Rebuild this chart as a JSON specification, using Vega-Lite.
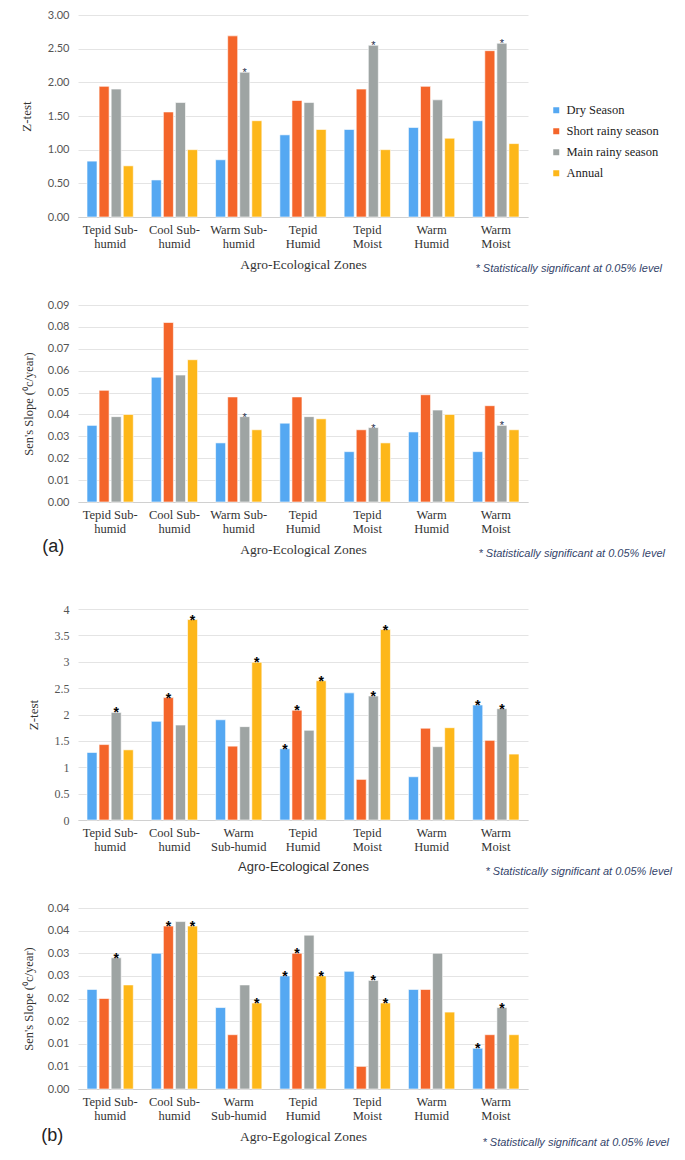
{
"$schema": "https://vega.github.io/schema/vega-lite/v6.json",
"background": "white",
"padding": {"left": 20, "top": 9, "right": 5, "bottom": 5},
"datasets": {"d": [
{"p":"p1","z":"Tepid Sub-humid","s":"Dry Season","v":0.83,"sig":0},
{"p":"p1","z":"Tepid Sub-humid","s":"Short rainy season","v":1.94,"sig":0},
{"p":"p1","z":"Tepid Sub-humid","s":"Main rainy season","v":1.90,"sig":0},
{"p":"p1","z":"Tepid Sub-humid","s":"Annual","v":0.76,"sig":0},
{"p":"p1","z":"Cool Sub-humid","s":"Dry Season","v":0.55,"sig":0},
{"p":"p1","z":"Cool Sub-humid","s":"Short rainy season","v":1.56,"sig":0},
{"p":"p1","z":"Cool Sub-humid","s":"Main rainy season","v":1.70,"sig":0},
{"p":"p1","z":"Cool Sub-humid","s":"Annual","v":1.00,"sig":0},
{"p":"p1","z":"Warm Sub-humid","s":"Dry Season","v":0.85,"sig":0},
{"p":"p1","z":"Warm Sub-humid","s":"Short rainy season","v":2.69,"sig":0},
{"p":"p1","z":"Warm Sub-humid","s":"Main rainy season","v":2.15,"sig":1},
{"p":"p1","z":"Warm Sub-humid","s":"Annual","v":1.43,"sig":0},
{"p":"p1","z":"Tepid Humid","s":"Dry Season","v":1.22,"sig":0},
{"p":"p1","z":"Tepid Humid","s":"Short rainy season","v":1.73,"sig":0},
{"p":"p1","z":"Tepid Humid","s":"Main rainy season","v":1.70,"sig":0},
{"p":"p1","z":"Tepid Humid","s":"Annual","v":1.30,"sig":0},
{"p":"p1","z":"Tepid Moist","s":"Dry Season","v":1.30,"sig":0},
{"p":"p1","z":"Tepid Moist","s":"Short rainy season","v":1.90,"sig":0},
{"p":"p1","z":"Tepid Moist","s":"Main rainy season","v":2.55,"sig":1},
{"p":"p1","z":"Tepid Moist","s":"Annual","v":1.00,"sig":0},
{"p":"p1","z":"Warm Humid","s":"Dry Season","v":1.33,"sig":0},
{"p":"p1","z":"Warm Humid","s":"Short rainy season","v":1.94,"sig":0},
{"p":"p1","z":"Warm Humid","s":"Main rainy season","v":1.74,"sig":0},
{"p":"p1","z":"Warm Humid","s":"Annual","v":1.17,"sig":0},
{"p":"p1","z":"Warm Moist","s":"Dry Season","v":1.43,"sig":0},
{"p":"p1","z":"Warm Moist","s":"Short rainy season","v":2.47,"sig":0},
{"p":"p1","z":"Warm Moist","s":"Main rainy season","v":2.58,"sig":1},
{"p":"p1","z":"Warm Moist","s":"Annual","v":1.09,"sig":0},
{"p":"p2","z":"Tepid Sub-humid","s":"Dry Season","v":0.035,"sig":0},
{"p":"p2","z":"Tepid Sub-humid","s":"Short rainy season","v":0.051,"sig":0},
{"p":"p2","z":"Tepid Sub-humid","s":"Main rainy season","v":0.039,"sig":0},
{"p":"p2","z":"Tepid Sub-humid","s":"Annual","v":0.040,"sig":0},
{"p":"p2","z":"Cool Sub-humid","s":"Dry Season","v":0.057,"sig":0},
{"p":"p2","z":"Cool Sub-humid","s":"Short rainy season","v":0.082,"sig":0},
{"p":"p2","z":"Cool Sub-humid","s":"Main rainy season","v":0.058,"sig":0},
{"p":"p2","z":"Cool Sub-humid","s":"Annual","v":0.065,"sig":0},
{"p":"p2","z":"Warm Sub-humid","s":"Dry Season","v":0.027,"sig":0},
{"p":"p2","z":"Warm Sub-humid","s":"Short rainy season","v":0.048,"sig":0},
{"p":"p2","z":"Warm Sub-humid","s":"Main rainy season","v":0.039,"sig":1},
{"p":"p2","z":"Warm Sub-humid","s":"Annual","v":0.033,"sig":0},
{"p":"p2","z":"Tepid Humid","s":"Dry Season","v":0.036,"sig":0},
{"p":"p2","z":"Tepid Humid","s":"Short rainy season","v":0.048,"sig":0},
{"p":"p2","z":"Tepid Humid","s":"Main rainy season","v":0.039,"sig":0},
{"p":"p2","z":"Tepid Humid","s":"Annual","v":0.038,"sig":0},
{"p":"p2","z":"Tepid Moist","s":"Dry Season","v":0.023,"sig":0},
{"p":"p2","z":"Tepid Moist","s":"Short rainy season","v":0.033,"sig":0},
{"p":"p2","z":"Tepid Moist","s":"Main rainy season","v":0.034,"sig":1},
{"p":"p2","z":"Tepid Moist","s":"Annual","v":0.027,"sig":0},
{"p":"p2","z":"Warm Humid","s":"Dry Season","v":0.032,"sig":0},
{"p":"p2","z":"Warm Humid","s":"Short rainy season","v":0.049,"sig":0},
{"p":"p2","z":"Warm Humid","s":"Main rainy season","v":0.042,"sig":0},
{"p":"p2","z":"Warm Humid","s":"Annual","v":0.040,"sig":0},
{"p":"p2","z":"Warm Moist","s":"Dry Season","v":0.023,"sig":0},
{"p":"p2","z":"Warm Moist","s":"Short rainy season","v":0.044,"sig":0},
{"p":"p2","z":"Warm Moist","s":"Main rainy season","v":0.035,"sig":1},
{"p":"p2","z":"Warm Moist","s":"Annual","v":0.033,"sig":0},
{"p":"p3","z":"Tepid Sub-humid","s":"Dry Season","v":1.28,"sig":0},
{"p":"p3","z":"Tepid Sub-humid","s":"Short rainy season","v":1.43,"sig":0},
{"p":"p3","z":"Tepid Sub-humid","s":"Main rainy season","v":2.04,"sig":1},
{"p":"p3","z":"Tepid Sub-humid","s":"Annual","v":1.33,"sig":0},
{"p":"p3","z":"Cool Sub-humid","s":"Dry Season","v":1.87,"sig":0},
{"p":"p3","z":"Cool Sub-humid","s":"Short rainy season","v":2.32,"sig":1},
{"p":"p3","z":"Cool Sub-humid","s":"Main rainy season","v":1.80,"sig":0},
{"p":"p3","z":"Cool Sub-humid","s":"Annual","v":3.80,"sig":1},
{"p":"p3","z":"Warm Sub-humid","s":"Dry Season","v":1.90,"sig":0},
{"p":"p3","z":"Warm Sub-humid","s":"Short rainy season","v":1.40,"sig":0},
{"p":"p3","z":"Warm Sub-humid","s":"Main rainy season","v":1.77,"sig":0},
{"p":"p3","z":"Warm Sub-humid","s":"Annual","v":2.99,"sig":1},
{"p":"p3","z":"Tepid Humid","s":"Dry Season","v":1.35,"sig":1},
{"p":"p3","z":"Tepid Humid","s":"Short rainy season","v":2.08,"sig":1},
{"p":"p3","z":"Tepid Humid","s":"Main rainy season","v":1.70,"sig":0},
{"p":"p3","z":"Tepid Humid","s":"Annual","v":2.64,"sig":1},
{"p":"p3","z":"Tepid Moist","s":"Dry Season","v":2.41,"sig":0},
{"p":"p3","z":"Tepid Moist","s":"Short rainy season","v":0.77,"sig":0},
{"p":"p3","z":"Tepid Moist","s":"Main rainy season","v":2.35,"sig":1},
{"p":"p3","z":"Tepid Moist","s":"Annual","v":3.61,"sig":1},
{"p":"p3","z":"Warm Humid","s":"Dry Season","v":0.82,"sig":0},
{"p":"p3","z":"Warm Humid","s":"Short rainy season","v":1.74,"sig":0},
{"p":"p3","z":"Warm Humid","s":"Main rainy season","v":1.39,"sig":0},
{"p":"p3","z":"Warm Humid","s":"Annual","v":1.75,"sig":0},
{"p":"p3","z":"Warm Moist","s":"Dry Season","v":2.18,"sig":1},
{"p":"p3","z":"Warm Moist","s":"Short rainy season","v":1.51,"sig":0},
{"p":"p3","z":"Warm Moist","s":"Main rainy season","v":2.11,"sig":1},
{"p":"p3","z":"Warm Moist","s":"Annual","v":1.25,"sig":0},
{"p":"p4","z":"Tepid Sub-humid","s":"Dry Season","v":0.022,"sig":0},
{"p":"p4","z":"Tepid Sub-humid","s":"Short rainy season","v":0.020,"sig":0},
{"p":"p4","z":"Tepid Sub-humid","s":"Main rainy season","v":0.029,"sig":1},
{"p":"p4","z":"Tepid Sub-humid","s":"Annual","v":0.023,"sig":0},
{"p":"p4","z":"Cool Sub-humid","s":"Dry Season","v":0.030,"sig":0},
{"p":"p4","z":"Cool Sub-humid","s":"Short rainy season","v":0.036,"sig":1},
{"p":"p4","z":"Cool Sub-humid","s":"Main rainy season","v":0.037,"sig":0},
{"p":"p4","z":"Cool Sub-humid","s":"Annual","v":0.036,"sig":1},
{"p":"p4","z":"Warm Sub-humid","s":"Dry Season","v":0.018,"sig":0},
{"p":"p4","z":"Warm Sub-humid","s":"Short rainy season","v":0.012,"sig":0},
{"p":"p4","z":"Warm Sub-humid","s":"Main rainy season","v":0.023,"sig":0},
{"p":"p4","z":"Warm Sub-humid","s":"Annual","v":0.019,"sig":1},
{"p":"p4","z":"Tepid Humid","s":"Dry Season","v":0.025,"sig":1},
{"p":"p4","z":"Tepid Humid","s":"Short rainy season","v":0.030,"sig":1},
{"p":"p4","z":"Tepid Humid","s":"Main rainy season","v":0.034,"sig":0},
{"p":"p4","z":"Tepid Humid","s":"Annual","v":0.025,"sig":1},
{"p":"p4","z":"Tepid Moist","s":"Dry Season","v":0.026,"sig":0},
{"p":"p4","z":"Tepid Moist","s":"Short rainy season","v":0.005,"sig":0},
{"p":"p4","z":"Tepid Moist","s":"Main rainy season","v":0.024,"sig":1},
{"p":"p4","z":"Tepid Moist","s":"Annual","v":0.019,"sig":1},
{"p":"p4","z":"Warm Humid","s":"Dry Season","v":0.022,"sig":0},
{"p":"p4","z":"Warm Humid","s":"Short rainy season","v":0.022,"sig":0},
{"p":"p4","z":"Warm Humid","s":"Main rainy season","v":0.030,"sig":0},
{"p":"p4","z":"Warm Humid","s":"Annual","v":0.017,"sig":0},
{"p":"p4","z":"Warm Moist","s":"Dry Season","v":0.009,"sig":1},
{"p":"p4","z":"Warm Moist","s":"Short rainy season","v":0.012,"sig":0},
{"p":"p4","z":"Warm Moist","s":"Main rainy season","v":0.018,"sig":1},
{"p":"p4","z":"Warm Moist","s":"Annual","v":0.012,"sig":0}
]},
"config": {
  "view": {"stroke": null},
  "axisX": {"labelAngle": 0, "ticks": false, "grid": false, "domainColor": "#d0d0d0", "labelFont": "Liberation Serif", "labelFontSize": 12.5, "labelLineHeight": 14, "labelPadding": 6, "labelColor": "#333", "titleFont": "Liberation Serif", "titleFontSize": 13.5, "titleFontWeight": "normal", "titleColor": "#333", "titlePadding": 8},
  "axisY": {"domain": false, "ticks": false, "grid": true, "gridColor": "#e4e4e4", "labelFont": "Lato", "labelFontSize": 11, "labelColor": "#555", "labelPadding": 9, "titleFont": "Liberation Serif", "titleFontSize": 13, "titleFontWeight": "normal", "titleColor": "#333", "titlePadding": 14},
  "legend": {"symbolType": "square", "symbolSize": 36, "symbolStrokeWidth": 0, "labelFont": "Liberation Serif", "labelFontSize": 12.5, "labelColor": "#222", "rowPadding": 8, "padding": 0, "labelOffset": 4},
  "title": {"orient": "bottom", "anchor": "end", "frame": "group", "font": "Liberation Sans", "fontStyle": "italic", "fontSize": 11, "fontWeight": "normal", "color": "#34446a"}
},
"spacing": 44,
"vconcat": [
{"spacing": 25, "vconcat": [
{
  "width": 450, "height": 202,
  "data": {"name": "d"},
  "title": {"text": "* Statistically significant at 0.05% level", "dx": 134, "offset": -8},
  "encoding": {
    "x": {"field": "z", "type": "nominal", "sort": ["Tepid Sub-humid","Cool Sub-humid","Warm Sub-humid","Tepid Humid","Tepid Moist","Warm Humid","Warm Moist"], "scale": {"paddingInner": 0.28, "paddingOuter": 0.14}, "axis": {"title": "Agro-Ecological Zones", "labelExpr": "indexof(datum.label,'Sub-')>=0 ? split(replace(datum.label,'Sub-','Sub-|'),'|') : split(datum.label,' ')"}},
    "y": {"field": "v", "type": "quantitative", "scale": {"domain": [0, 3]}, "axis": {"title": "Z-test", "values": [0,0.5,1,1.5,2,2.5,3], "format": ".2f"}}
  },
  "layer": [
    {"transform": [{"filter": "datum.p == 'p1'"}], "mark": {"type": "bar", "stroke": "white", "strokeWidth": 0.6},
     "encoding": {"xOffset": {"field": "s", "type": "nominal", "scale": {"domain": ["Dry Season","Short rainy season","Main rainy season","Annual"], "paddingInner": 0.17}},
       "color": {"field": "s", "type": "nominal", "scale": {"domain": ["Dry Season","Short rainy season","Main rainy season","Annual"], "range": ["#55a8f2","#f4652a","#9ea4a3","#fdb71a"]}, "legend": {"title": null, "orient": "none", "legendX": 472, "legendY": 89}}}},
    {"transform": [{"filter": "datum.p == 'p1' && datum.sig == 1"}], "mark": {"type": "text", "text": "*", "baseline": "alphabetic", "dy": 4, "fontSize": 11, "font": "Liberation Sans", "color": "#1f2d4a"},
     "encoding": {"xOffset": {"field": "s", "type": "nominal", "scale": {"domain": ["Dry Season","Short rainy season","Main rainy season","Annual"]}}}}
  ]
},
{
  "width": 450, "height": 197,
  "data": {"name": "d"},
  "title": {"text": "* Statistically significant at 0.05% level", "dx": 137, "offset": -8},
  "encoding": {
    "x": {"field": "z", "type": "nominal", "sort": ["Tepid Sub-humid","Cool Sub-humid","Warm Sub-humid","Tepid Humid","Tepid Moist","Warm Humid","Warm Moist"], "scale": {"paddingInner": 0.28, "paddingOuter": 0.14}, "axis": {"title": "Agro-Ecological Zones", "labelExpr": "indexof(datum.label,'Sub-')>=0 ? split(replace(datum.label,'Sub-','Sub-|'),'|') : split(datum.label,' ')"}},
    "y": {"field": "v", "type": "quantitative", "scale": {"domain": [0, 0.09]}, "axis": {"title": "Sen's Slope (⁰c/year)", "titleFontSize": 12.5, "titlePadding": 12, "values": [0,0.01,0.02,0.03,0.04,0.05,0.06,0.07,0.08,0.09], "format": ".2f"}}
  },
  "layer": [
    {"transform": [{"filter": "datum.p == 'p2'"}], "mark": {"type": "bar", "stroke": "white", "strokeWidth": 0.6},
     "encoding": {"xOffset": {"field": "s", "type": "nominal", "scale": {"domain": ["Dry Season","Short rainy season","Main rainy season","Annual"], "paddingInner": 0.17}},
       "color": {"field": "s", "type": "nominal", "scale": {"domain": ["Dry Season","Short rainy season","Main rainy season","Annual"], "range": ["#55a8f2","#f4652a","#9ea4a3","#fdb71a"]}, "legend": {"title": null, "orient": "none", "legendX": 474, "legendY": 88}}}},
    {"transform": [{"filter": "datum.p == 'p2' && datum.sig == 1"}], "mark": {"type": "text", "text": "*", "baseline": "alphabetic", "dy": 4, "fontSize": 11, "font": "Liberation Sans", "color": "#1f2d4a"},
     "encoding": {"xOffset": {"field": "s", "type": "nominal", "scale": {"domain": ["Dry Season","Short rainy season","Main rainy season","Annual"]}}}},
    {"transform": [{"filter": "datum.p == 'p2' && datum.z == 'Tepid Sub-humid' && datum.s == 'Dry Season'"}], "mark": {"type": "text", "text": "(a)", "font": "Liberation Sans", "fontSize": 18, "color": "#222", "dx": -57, "dy": 45, "baseline": "middle"},
     "encoding": {"y": {"datum": 0}}}
  ]
}
]},
{"spacing": 25, "vconcat": [
{
  "width": 450, "height": 211,
  "data": {"name": "d"},
  "title": {"text": "* Statistically significant at 0.05% level", "dx": 144, "offset": -8},
  "encoding": {
    "x": {"field": "z", "type": "nominal", "sort": ["Tepid Sub-humid","Cool Sub-humid","Warm Sub-humid","Tepid Humid","Tepid Moist","Warm Humid","Warm Moist"], "scale": {"paddingInner": 0.28, "paddingOuter": 0.14}, "axis": {"title": "Agro-Ecological Zones", "titleFont": "Liberation Sans", "titleFontSize": 13, "labelExpr": "datum.label == 'Warm Sub-humid' ? ['Warm','Sub-humid'] : (indexof(datum.label,'Sub-')>=0 ? split(replace(datum.label,'Sub-','Sub-|'),'|') : split(datum.label,' '))"}},
    "y": {"field": "v", "type": "quantitative", "scale": {"domain": [0, 4]}, "axis": {"title": "Z-test", "values": [0,0.5,1,1.5,2,2.5,3,3.5,4], "format": "~g", "labelFont": "Liberation Serif", "labelFontSize": 12}}
  },
  "layer": [
    {"transform": [{"filter": "datum.p == 'p3'"}], "mark": {"type": "bar", "stroke": "white", "strokeWidth": 0.6},
     "encoding": {"xOffset": {"field": "s", "type": "nominal", "scale": {"domain": ["Dry Season","Short rainy season","Main rainy season","Annual"], "paddingInner": 0.17}},
       "color": {"field": "s", "type": "nominal", "scale": {"domain": ["Dry Season","Short rainy season","Main rainy season","Annual"], "range": ["#55a8f2","#f4652a","#9ea4a3","#fdb71a"]}, "legend": {"title": null, "orient": "none", "legendX": 479, "legendY": 94}}}},
    {"transform": [{"filter": "datum.p == 'p3' && datum.sig == 1"}], "mark": {"type": "text", "text": "*", "baseline": "alphabetic", "dy": 5, "fontSize": 14, "fontWeight": "bold", "font": "Liberation Sans", "color": "#000"},
     "encoding": {"xOffset": {"field": "s", "type": "nominal", "scale": {"domain": ["Dry Season","Short rainy season","Main rainy season","Annual"]}}}}
  ]
},
{
  "width": 450, "height": 181,
  "data": {"name": "d"},
  "title": {"text": "* Statistically significant at 0.05% level", "dx": 141, "offset": -8},
  "encoding": {
    "x": {"field": "z", "type": "nominal", "sort": ["Tepid Sub-humid","Cool Sub-humid","Warm Sub-humid","Tepid Humid","Tepid Moist","Warm Humid","Warm Moist"], "scale": {"paddingInner": 0.28, "paddingOuter": 0.14}, "axis": {"title": "Agro-Egological Zones", "labelExpr": "datum.label == 'Warm Sub-humid' ? ['Warm','Sub-humid'] : (indexof(datum.label,'Sub-')>=0 ? split(replace(datum.label,'Sub-','Sub-|'),'|') : split(datum.label,' '))"}},
    "y": {"field": "v", "type": "quantitative", "scale": {"domain": [0, 0.04]}, "axis": {"title": "Sen's Slope (⁰c/year)", "titleFontSize": 12.5, "titlePadding": 12, "values": [0,0.005,0.01,0.015,0.02,0.025,0.03,0.035,0.04], "labelExpr": "format(round(datum.value*100 + 0.000001)/100, '.2f')"}}
  },
  "layer": [
    {"transform": [{"filter": "datum.p == 'p4'"}], "mark": {"type": "bar", "stroke": "white", "strokeWidth": 0.6},
     "encoding": {"xOffset": {"field": "s", "type": "nominal", "scale": {"domain": ["Dry Season","Short rainy season","Main rainy season","Annual"], "paddingInner": 0.17}},
       "color": {"field": "s", "type": "nominal", "scale": {"domain": ["Dry Season","Short rainy season","Main rainy season","Annual"], "range": ["#55a8f2","#f4652a","#9ea4a3","#fdb71a"]}, "legend": {"title": null, "orient": "none", "legendX": 479, "legendY": 79}}}},
    {"transform": [{"filter": "datum.p == 'p4' && datum.sig == 1"}], "mark": {"type": "text", "text": "*", "baseline": "alphabetic", "dy": 5, "fontSize": 14, "fontWeight": "bold", "font": "Liberation Sans", "color": "#000"},
     "encoding": {"xOffset": {"field": "s", "type": "nominal", "scale": {"domain": ["Dry Season","Short rainy season","Main rainy season","Annual"]}}}},
    {"transform": [{"filter": "datum.p == 'p4' && datum.z == 'Tepid Sub-humid' && datum.s == 'Dry Season'"}], "mark": {"type": "text", "text": "(b)", "font": "Liberation Sans", "fontSize": 18, "color": "#222", "dx": -58, "dy": 47, "baseline": "middle"},
     "encoding": {"y": {"datum": 0}}}
  ]
}
]}
]
}
